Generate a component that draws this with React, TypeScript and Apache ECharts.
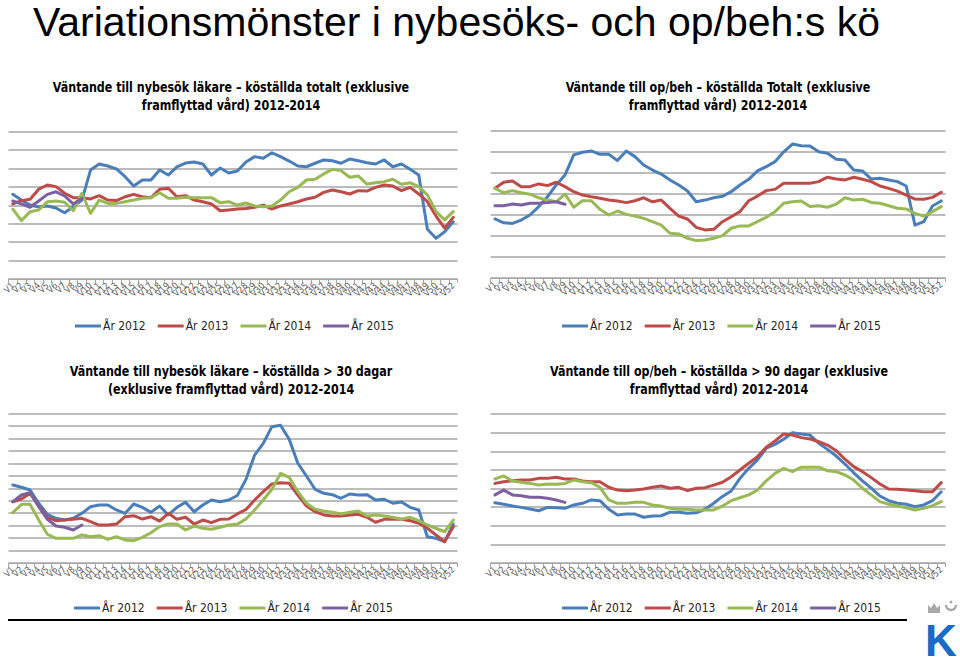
import React, { useEffect, useRef } from "react";
import * as echarts from "echarts";

const weeks = ["V1","V2","V3","V4","V5","V6","V7","V8","V9","V10","V11","V12","V13","V14","V15","V16","V17","V18","V19","V20","V21","V22","V23","V24","V25","V26","V27","V28","V29","V30","V31","V32","V33","V34","V35","V36","V37","V38","V39","V40","V41","V42","V43","V44","V45","V46","V47","V48","V49","V50","V51","V52"];
const seriesNames = ["År 2012", "År 2013", "År 2014", "År 2015"];
const seriesColors = ["#4A7EBB", "#BE4B48", "#98B954", "#7D60A0"];

const mainTitle = "Variationsmönster i nybesöks- och op/beh:s kö";
const chartTitles = [
  ["Väntande till nybesök läkare – köställda totalt (exklusive", "framflyttad vård) 2012-2014"],
  ["Väntande till op/beh – köställda Totalt (exklusive", "framflyttad vård) 2012-2014"],
  ["Väntande till nybesök läkare – köställda > 30 dagar", "(exklusive framflyttad vård) 2012-2014"],
  ["Väntande till op/beh – köställda > 90 dagar (exklusive", "framflyttad vård) 2012-2014"],
];
const yMax = [800, 700, 1200, 800];

// Chart 1: nybesök läkare totalt
const c1y2012 = [460,429,402,391,397,386,360,393,429,592,625,614,598,556,505,538,538,592,565,609,630,636,625,565,603,576,587,636,665,656,686,665,641,614,610,629,647,643,629,652,643,632,625,647,610,625,596,565,270,221,257,311];
const c1y2013 = [408,426,433,488,511,502,466,442,442,435,453,429,426,447,460,447,442,488,493,447,453,429,420,408,371,375,380,383,390,401,380,397,408,420,435,444,471,484,474,462,480,478,498,511,505,480,498,462,420,342,276,335];
const c1y2014 = [380,317,366,375,420,424,417,371,466,357,429,411,411,420,429,439,442,469,439,439,444,442,442,442,415,420,402,413,397,393,397,429,474,498,538,542,571,596,589,553,560,516,523,529,542,515,523,502,457,366,321,366];
const c1y2015 = [424,408,390,424,460,474,451,408,439];

// Chart 2: op/beh totalt
const c2y2012 = [281,263,260,276,300,340,387,443,490,586,599,605,589,589,559,605,578,538,514,495,467,443,414,363,371,382,389,411,443,470,510,530,554,601,638,630,629,601,594,565,562,514,510,471,475,467,459,438,252,268,343,367];
const c2y2013 = [427,456,462,435,435,448,440,456,435,411,395,387,380,371,367,359,368,382,363,371,332,295,281,241,229,232,268,292,316,368,390,416,422,451,451,451,451,459,480,471,467,480,470,459,438,427,414,395,376,375,384,408];
const c2y2014 = [427,406,416,406,399,382,371,363,400,337,368,368,327,300,319,303,295,284,268,252,213,210,189,178,181,189,202,237,248,248,268,289,316,356,363,367,340,344,337,352,382,371,375,360,356,344,332,329,308,295,316,340];
const c2y2015 = [344,344,352,348,356,356,359,363,351];

// Chart 3: nybesök läkare > 30 dagar
const c3y2012 = [627,608,586,480,391,359,345,359,399,452,466,466,426,399,474,447,407,458,386,447,488,412,466,506,492,506,542,672,867,961,1095,1106,994,801,699,592,560,549,520,554,546,549,506,512,480,490,447,426,211,198,171,313];
const c3y2013 = [492,514,560,458,367,340,345,351,359,332,305,305,313,372,380,353,372,337,399,351,367,313,345,324,351,353,394,430,506,573,635,645,640,546,458,412,386,378,378,386,391,367,327,351,351,351,340,319,279,225,171,292];
const c3y2014 = [404,471,471,345,231,198,198,198,225,211,219,190,211,185,179,206,243,292,313,313,265,297,279,271,287,305,312,353,426,506,592,720,688,573,480,431,418,407,394,407,418,378,386,378,367,351,367,340,305,279,251,345];
const c3y2015 = [492,546,565,452,351,297,287,265,305];

// Chart 4: op/beh > 90 dagar
const c4y2012 = [324,316,306,299,290,281,299,297,294,312,321,339,335,289,258,263,263,246,253,254,273,273,267,270,289,321,358,387,455,509,554,617,638,665,701,694,688,644,611,575,532,485,442,402,360,335,321,316,303,312,335,383];
const c4y2013 = [428,437,442,446,446,455,455,461,452,452,441,437,437,407,392,389,392,398,407,414,402,407,389,402,405,419,434,464,500,536,572,622,656,694,688,674,667,652,634,604,558,518,491,459,425,398,396,392,389,383,383,432];
const c4y2014 = [452,468,441,434,428,419,425,423,428,446,437,432,407,339,321,321,326,326,312,306,294,289,289,285,285,285,306,335,351,366,392,442,482,509,491,515,515,515,496,491,473,446,402,366,330,316,306,297,285,294,308,330];
const c4y2015 = [366,392,366,362,353,353,348,339,326];

const chartData = [
  [c1y2012, c1y2013, c1y2014, c1y2015],
  [c2y2012, c2y2013, c2y2014, c2y2015],
  [c3y2012, c3y2013, c3y2014, c3y2015],
  [c4y2012, c4y2013, c4y2014, c4y2015],
];

const NARROW = "'Liberation Sans Narrow', 'DejaVu Sans Condensed', 'Liberation Sans', sans-serif";

export default function App() {
  const ref = useRef<HTMLDivElement>(null);
  useEffect(() => {
    if (!ref.current) return;
    const chart = echarts.init(ref.current, undefined, { renderer: "svg" });

    const grids = [
      { left: 2.6, top: 131.8, width: 455, height: 147.2 },
      { left: 490.6, top: 131, width: 455, height: 147 },
      { left: 2.6, top: 413.6, width: 455, height: 149.4 },
      { left: 490.6, top: 414.2, width: 455, height: 148.8 },
    ];
    const titleCenters = [
      [231, 87], [718, 87], [231, 371], [719, 371],
    ];
    const legendPos = [
      [75, 320], [562, 320], [74, 602], [562, 602],
    ];

    const xAxes = grids.map((_, i) => ({
      type: "category",
      gridIndex: i,
      data: weeks,
      boundaryGap: true,
      axisLine: { lineStyle: { color: "#A6A6A6", width: 1 } },
      axisTick: { show: true, length: 4, lineStyle: { color: "#A6A6A6" } },
      axisLabel: {
        interval: 0,
        rotate: 45,
        fontSize: 9,
        margin: 5,
        color: "#595959",
        fontFamily: NARROW,
      },
      splitLine: { show: false },
    }));
    const yAxes = grids.map((_, i) => ({
      type: "value",
      gridIndex: i,
      min: 0,
      max: yMax[i],
      interval: 100,
      axisLabel: { show: false },
      axisLine: { show: false },
      axisTick: { show: false },
      splitLine: { show: true, lineStyle: { color: "#A6A6A6", width: 1.5 } },
    }));

    const series: any[] = [];
    chartData.forEach((sets, gi) => {
      sets.forEach((d, k) => {
        series.push({
          type: "line",
          name: seriesNames[k],
          xAxisIndex: gi,
          yAxisIndex: gi,
          data: d,
          symbol: "none",
          showSymbol: false,
          lineStyle: { width: 3, color: seriesColors[k], cap: "round", join: "round" },
          itemStyle: { color: seriesColors[k] },
          z: 2 + k,
        });
      });
    });

    const legends = legendPos.map(([l, t]) => ({
      left: l,
      top: t,
      padding: 0,
      orient: "horizontal",
      data: seriesNames,
      icon: "rect",
      itemWidth: 26,
      itemHeight: 3,
      itemGap: 12,
      textStyle: { fontSize: 12, color: "#262626", fontFamily: NARROW, padding: [0, 0, 0, -3] },
      selectedMode: false,
    }));

    const graphics: any[] = [
      {
        type: "text",
        x: 33,
        y: 22,
        style: {
          text: mainTitle,
          font: "41px 'Liberation Sans', Arial, sans-serif",
          fill: "#000",
          textAlign: "left",
          textVerticalAlign: "middle",
        },
      },
    ];
    chartTitles.forEach((lines, i) => {
      lines.forEach((ln, j) => {
        graphics.push({
          type: "text",
          x: titleCenters[i][0],
          y: titleCenters[i][1] + j * 18,
          scaleX: 0.883,
          style: {
            text: ln,
            font: "bold 14px " + NARROW,
            fill: "#000",
            textAlign: "center",
            textVerticalAlign: "middle",
          },
        });
      });
    });
    graphics.push({
      type: "line",
      shape: { x1: 8, y1: 620, x2: 907, y2: 620 },
      style: { stroke: "#000", lineWidth: 2 },
    });
    // logo
    graphics.push({
      type: "text",
      x: 941,
      y: 640,
      style: {
        text: "K",
        font: "bold 44px 'Liberation Sans', Arial, sans-serif",
        fill: "#1A6BC4",
        textAlign: "center",
        textVerticalAlign: "middle",
      },
    });
    graphics.push({
      type: "polygon",
      shape: { points: [[928, 613], [928, 605], [931, 608], [934, 603], [937, 608], [940, 605], [940, 613]] },
      style: { fill: "#A8A8A8" },
    });
    graphics.push({
      type: "arc",
      shape: { cx: 951, cy: 605, r: 5, startAngle: 0, endAngle: Math.PI },
      style: { stroke: "#A8A8A8", lineWidth: 2.5, fill: "none" },
    });
    graphics.push({
      type: "circle",
      shape: { cx: 951, cy: 602, r: 1.5 },
      style: { fill: "#A8A8A8" },
    });

    chart.setOption({
      animation: false,
      backgroundColor: "#fff",
      grid: grids,
      xAxis: xAxes,
      yAxis: yAxes,
      series,
      legend: legends,
      graphic: graphics,
    });
    return () => chart.dispose();
  }, []);
  return (
    <div
      ref={ref}
      style={{ position: "fixed", left: 0, top: 0, width: 960, height: 663, background: "#fff" }}
    />
  );
}
